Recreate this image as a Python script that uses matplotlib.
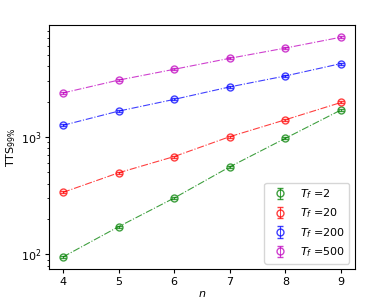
import matplotlib
matplotlib.use("Agg")
import matplotlib.pyplot as plt
import numpy as np

n = [4, 5, 6, 7, 8, 9]
tts_2 = [95, 172, 302, 557, 975, 1700]
tts_20 = [337, 495, 681, 1006, 1402, 1968]
tts_200 = [1256, 1660, 2090, 2670, 3310, 4220]
tts_500 = [2370, 3050, 3770, 4680, 5720, 7080]
labels = ["$T_f$ =2", "$T_f$ =20", "$T_f$ =200", "$T_f$ =500"]
colors = ["g", "r", "b", "m"]

fig = plt.figure(figsize=(3.83, 3.02), dpi=100)
ax = fig.add_axes([0.128, 0.109, 0.799, 0.808])
for y, lab, c in zip([tts_2, tts_20, tts_200, tts_500], labels, colors):
    y = np.array(y, dtype=float)
    ax.plot(n, y, linestyle='-.', color=c, lw=0.8, alpha=0.75)
    ax.errorbar(n, y, yerr=0.02 * y, fmt='o', linestyle='none', color=c,
                mfc='none', ms=5, capsize=2.5, elinewidth=0.8,
                label=lab, alpha=0.75)
ax.set_yscale('log')
ax.set_xlabel('$n$', fontsize=8, labelpad=2)
ax.set_ylabel('TTS$_{99\\%}$', fontsize=8, labelpad=2)
ax.tick_params(labelsize=8, length=3, pad=2.5)
ax.tick_params(which='minor', length=1.7)
ax.legend(loc='lower right', fontsize=8, borderaxespad=0.5)
fig.savefig('out.png', dpi=100)
